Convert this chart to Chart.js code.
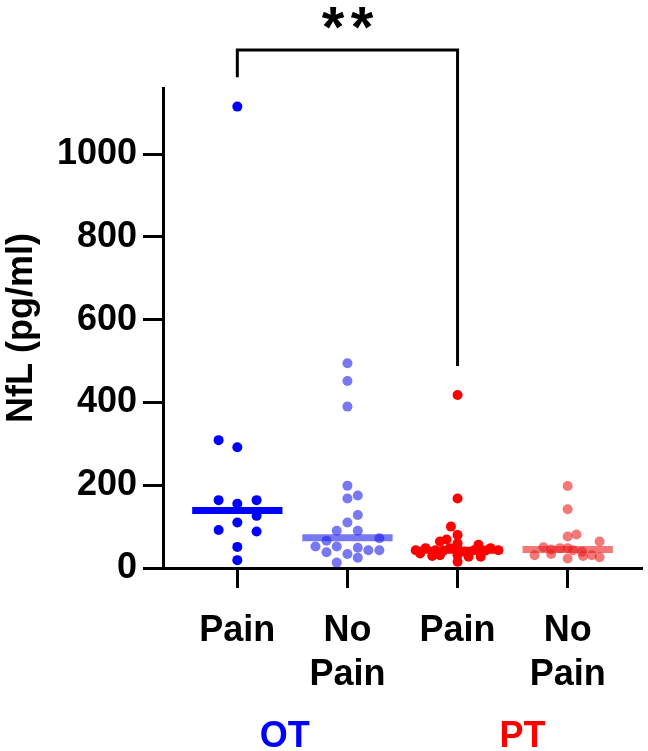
<!DOCTYPE html>
<html>
<head>
<meta charset="utf-8">
<script src="https://cdn.jsdelivr.net/npm/chart.js@4/dist/chart.umd.min.js"></script>
<style>
  html, body { margin: 0; padding: 0; background: #fff; }
  #wrap { width: 648px; height: 751px; position: relative; }
</style>
</head>
<body>
<div id="wrap"><canvas id="nflChart"></canvas></div>
<script>
// --- Data ---
const categoryLabels = ['Pain', ['No', 'Pain'], 'Pain', ['No', 'Pain']];
const categoryPositions = [0, 1, 2, 3];
const groupLabels = ['OT', 'PT'];
const groupLabelPositions = [0.43, 2.59];
const groupLabelColors = ['#0000FF', '#FF0000'];
const yTickValues = [0, 200, 400, 600, 800, 1000];

const otPainValues = [1115, 309, 292, 164, 155, 164, 126, 110, 92, 88, 51, 19];
const otPainOffsets = [0, -0.17, 0, -0.17, 0, 0.175, 0.175, 0, -0.17, 0.175, 0, 0];

const otNoPainValues = [495, 452, 390, 199, 168, 175, 128, 110, 90, 90, 66, 72, 52, 38, 52, 49, 43, 43, 34, 25, 13];
const otNoPainOffsets = [0, 0, 0, 0, 0, 0.094, 0.094, 0, -0.097, 0.094, -0.19, 0.29, -0.29, -0.19, -0.097, 0.094, 0.19, 0.29, 0, 0.094, -0.097];

const ptPainValues = [418, 168, 100, 80, 69, 64, 60, 56, 48, 48, 48, 48, 43, 43, 43, 43, 42, 42, 39, 35, 31, 31, 29, 27, 27, 15];
const ptPainOffsets = [0, 0, -0.06, 0, -0.1, -0.16, 0, 0.19, -0.29, -0.07, 0, 0.30, -0.38, -0.20, 0.15, 0.37, -0.13, 0.25, 0.07, -0.34, 0, -0.16, -0.23, 0.10, 0.21, 0];

const ptNoPainValues = [198, 142, 81, 76, 64, 50, 48, 48, 45, 43, 39, 34, 31, 31, 29, 26, 23];
const ptNoPainOffsets = [0, 0, 0.08, 0, 0.29, -0.22, -0.07, 0, -0.15, 0.05, 0.13, -0.15, -0.30, 0.22, 0.14, 0.29, 0];

const medianValues = [139, 73, 43, 45];
const medianHalfWidth = 0.41;

// significance bracket between OT Pain and PT Pain
const bracketFrom = 0;
const bracketTo = 2;
const bracketTop = 1252;
const bracketLeftEnd = 1186;
const bracketRightEnd = 488;
const bracketMarks = ['*', '*'];

const groupColors = ['#0000FF', 'rgba(30, 30, 235, 0.6)', '#FF0000', 'rgba(235, 30, 30, 0.6)'];

const FONT = "'Liberation Sans', Arial, sans-serif";
Chart.defaults.font.family = FONT;
Chart.defaults.color = '#000';

// --- Build datasets ---
const groups = [
  [otPainValues, otPainOffsets],
  [otNoPainValues, otNoPainOffsets],
  [ptPainValues, ptPainOffsets],
  [ptNoPainValues, ptNoPainOffsets]
];

const datasets = [];
groups.forEach(([values, offsets], i) => {
  datasets.push({
    type: 'scatter',
    data: values.map((v, j) => ({ x: categoryPositions[i] + offsets[j], y: v })),
    backgroundColor: groupColors[i],
    borderWidth: 0,
    pointRadius: 5,
    order: 1
  });
  datasets.push({
    type: 'line',
    data: [
      { x: categoryPositions[i] - medianHalfWidth, y: medianValues[i] },
      { x: categoryPositions[i] + medianHalfWidth, y: medianValues[i] }
    ],
    borderColor: groupColors[i],
    borderWidth: 7,
    borderCapStyle: 'butt',
    pointRadius: 0,
    order: 0
  });
});

// bracket + asterisks
const bracketPlugin = {
  id: 'bracket',
  afterDraw(chart) {
    const { ctx, scales: { x, y } } = chart;
    const x1 = x.getPixelForValue(bracketFrom);
    const x2 = x.getPixelForValue(bracketTo);
    ctx.save();
    ctx.strokeStyle = '#000';
    ctx.lineWidth = 3;
    ctx.lineJoin = 'miter';
    ctx.beginPath();
    ctx.moveTo(x1, y.getPixelForValue(bracketLeftEnd));
    ctx.lineTo(x1, y.getPixelForValue(bracketTop));
    ctx.lineTo(x2, y.getPixelForValue(bracketTop));
    ctx.lineTo(x2, y.getPixelForValue(bracketRightEnd));
    ctx.stroke();

    // stars centred over the bracket, glyph box centred at y = 18
    ctx.fillStyle = '#000';
    ctx.font = 'bold 58px ' + FONT;
    ctx.textAlign = 'center';
    ctx.textBaseline = 'alphabetic';
    const cx = (x1 + x2) / 2;
    const m = ctx.measureText('*');
    const base = 18 + (m.actualBoundingBoxAscent - m.actualBoundingBoxDescent) / 2;
    const gap = 29;
    bracketMarks.forEach((s, k) => {
      ctx.fillText(s, cx + (k - (bracketMarks.length - 1) / 2) * gap, base);
    });
    ctx.restore();
  }
};

new Chart(document.getElementById('nflChart'), {
  type: 'scatter',
  data: { datasets },
  options: {
    responsive: true,
    maintainAspectRatio: false,
    animation: false,
    layout: { padding: { top: 88, right: 6, bottom: 0, left: 0 } },
    plugins: { legend: { display: false }, tooltip: { enabled: false } },
    scales: {
      x: {
        type: 'linear',
        position: 'bottom',
        weight: 0,
        min: -0.675,
        max: 3.675,
        afterBuildTicks: (scale) => { scale.ticks = categoryPositions.map(v => ({ value: v })); },
        afterFit: (scale) => { scale.height = 135; },
        ticks: {
          callback: (val, idx) => categoryLabels[idx],
          font: { size: 36, weight: 'bold', lineHeight: 1.22 },
          color: '#000',
          padding: 21,
          maxRotation: 0,
          autoSkip: false
        },
        grid: { display: true, drawOnChartArea: false, drawTicks: true, tickLength: 20, tickWidth: 3, tickColor: '#000' },
        border: { display: true, color: '#000', width: 3 }
      },
      x2: {
        type: 'linear',
        position: 'bottom',
        weight: 1,
        min: -0.675,
        max: 3.675,
        afterBuildTicks: (scale) => { scale.ticks = groupLabelPositions.map(v => ({ value: v })); },
        afterFit: (scale) => { scale.height = 48; },
        ticks: {
          callback: (val, idx) => groupLabels[idx],
          color: (c) => groupLabelColors[c.index],
          font: { size: 36, weight: 'bold', lineHeight: 1.22 },
          padding: 4,
          maxRotation: 0,
          autoSkip: false
        },
        grid: { display: false },
        border: { display: false }
      },
      y: {
        type: 'linear',
        min: 0,
        max: 1160,
        afterBuildTicks: (scale) => { scale.ticks = yTickValues.map(v => ({ value: v })); },
        afterFit: (scale) => { scale.width = 163; },
        ticks: {
          callback: (val) => String(val),
          font: { size: 36, weight: 'bold' },
          color: '#000',
          padding: 6
        },
        grid: { display: true, drawOnChartArea: false, drawTicks: true, tickLength: 20, tickWidth: 3, tickColor: '#000' },
        border: { display: true, color: '#000', width: 3 },
        title: {
          display: true,
          text: 'NfL (pg/ml)',
          font: { size: 36, weight: 'bold', lineHeight: 1.2 },
          color: '#000',
          padding: { top: 0, bottom: 0 }
        }
      }
    }
  },
  plugins: [bracketPlugin]
});
</script>
</body>
</html>
